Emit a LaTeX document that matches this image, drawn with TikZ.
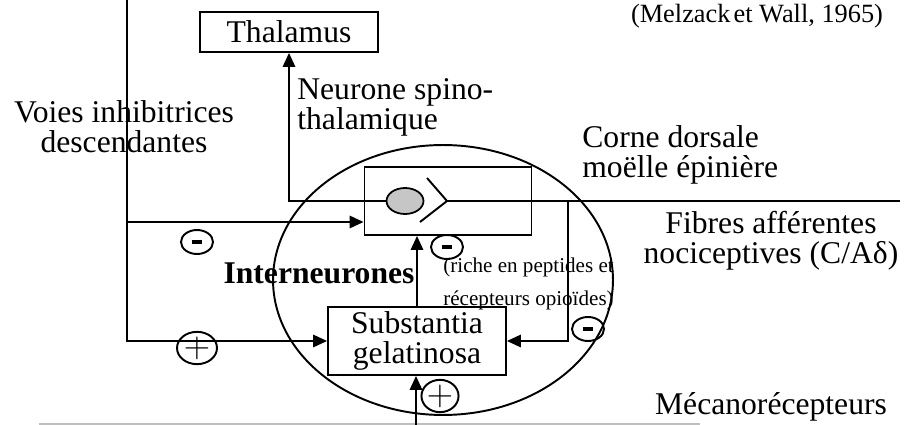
\documentclass[tikz,border=0pt]{standalone}
\usepackage{fontspec}
\setmainfont{Liberation Serif}
\usetikzlibrary{shapes.geometric, arrows.meta, positioning, calc}

\newcommand{\minussign}{\rule[-1.2pt]{6pt}{2.4pt}}
\newcommand{\plussign}{{\fontsize{22}{22}\selectfont$+$}}

\begin{document}
\begin{tikzpicture}[
    x=0.02cm, y=-0.02cm,
    font=\fontsize{18}{17}\selectfont,
    box/.style={draw=black, line width=1pt, align=center, inner sep=0pt},
    txt/.style={align=center, inner sep=0pt},
    small/.style={align=left, inner sep=0pt, font=\fontsize{12}{18.7}\selectfont},
    sign/.style={draw, ellipse, line width=1.1pt, inner sep=0pt, minimum width=0.64cm, minimum height=0.48cm},
    arrow/.style={-{Triangle[length=8pt, width=7pt]}, line width=1.3pt},
    fibre/.style={line width=1.1pt}
]
\useasboundingbox (0,0) rectangle (915,425);

% Dorsal horn
\node (corne) [draw, ellipse, line width=1.1pt, minimum width=6.8cm, minimum height=5.4cm, inner sep=0pt] at (443,280) {};

% Boxes
\node (thal) [box, minimum width=3.56cm, minimum height=0.8cm] at (289,32) {Thalamus};
\node (cell) [box, minimum width=3.34cm, minimum height=1.36cm] at (448,201) {};
\node (sg) [box, minimum width=3.56cm, minimum height=1.36cm] at (417,341) {Substantia\\gelatinosa};

% Spino-thalamic neurone
\node (soma) [draw, ellipse, fill=gray!45, line width=1pt, minimum width=0.74cm, minimum height=0.52cm, inner sep=0pt] at (405,201) {};
\coordinate (syn) at (447,201);
\draw [fibre] (427,178) -- (syn) -- (420,222);

% Labels
\node (melzack) [txt, font=\fontsize{15}{16}\selectfont] at (757,16) {(Melzack\hspace{-2pt} et Wall, 1965)};
\node (voies) [txt] at (124,127) {Voies inhibitrices\\descendantes};
\node (spino) [txt, anchor=west, align=left] at (297,107) {Neurone spino-\\thalamique};
\node (dorsal) [txt, anchor=west, align=left] at (582,155) {Corne dorsale\\moëlle épinière};
\node (fibres) [txt] at (771,241) {Fibres afférentes\\nociceptives (C/Aδ)};
\node (inter) [txt, font=\fontsize{18}{17}\selectfont\bfseries] at (319,273) {Interneurones};
\node (riche) [small, anchor=west] at (443,284) {(riche en peptides et\\récepteurs opioïdes)};
\node (mecano) [txt] at (771,407) {Mécanorécepteurs};

% Signs
\node (m1) [sign] at (197,242) {\minussign};
\node (p1) [sign, minimum width=0.8cm, minimum height=0.52cm] at (197,348) {\plussign};
\node (m2) [sign] at (447,247) {\minussign};
\node (m3) [sign] at (588,329) {\minussign};
\node (p2) [sign, minimum width=0.72cm, minimum height=0.52cm] at (440,396) {\plussign};

% Connectors
\coordinate (desc) at (127,0);
\coordinate (d1) at (127,222);
\coordinate (fend) at (900,201);
\coordinate (coll) at (568,201);
\coordinate (mec) at (416,425);
\coordinate (ml) at (39,424);
\coordinate (mr) at (700,424);

\draw [arrow] (soma.west) -| (thal.south);
\draw [fibre] (syn) -- (fend);
\draw [arrow] (desc) |- (sg.west);
\draw [arrow] (d1) -- (d1 -| cell.west);
\draw [arrow] (coll) |- (sg.east);
\draw [arrow] (sg.north) -- (sg.north |- cell.south);
\draw [gray!50, line width=1pt] (ml) -- (mr);
\draw [arrow] (mec) -- (mec |- sg.south);

\end{tikzpicture}
\end{document}
